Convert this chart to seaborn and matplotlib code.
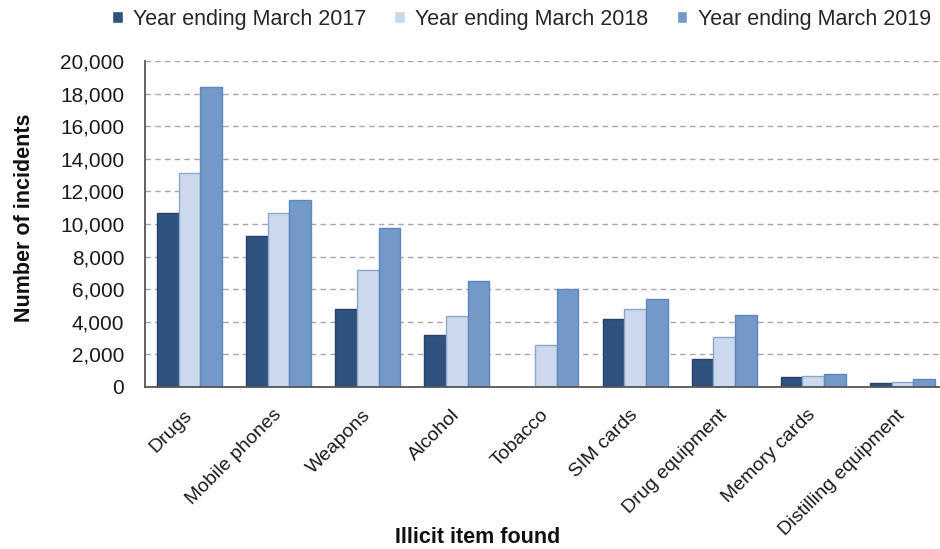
import numpy as np
import pandas as pd
import matplotlib
matplotlib.use("Agg")
import matplotlib.pyplot as plt
import matplotlib.transforms as mtransforms
import seaborn as sns
from matplotlib.ticker import FuncFormatter

categories = ["Drugs", "Mobile phones", "Weapons", "Alcohol", "Tobacco",
              "SIM cards", "Drug equipment", "Memory cards", "Distilling equipment"]
series = ["Year ending March 2017", "Year ending March 2018", "Year ending March 2019"]
y2017 = [10700, 9250, 4800, 3200, np.nan, 4200, 1720, 600, 230]
y2018 = [13100, 10650, 7180, 4380, 2580, 4760, 3090, 700, 330]
y2019 = [18420, 11450, 9750, 6480, 5990, 5400, 4400, 820, 510]

fills = ["#2F527F", "#CCD9EC", "#7399C9"]
edges = ["#24426A", "#8AA5CE", "#5F86BC"]

df = pd.DataFrame({
    "item": categories * 3,
    "year": [series[0]] * 9 + [series[1]] * 9 + [series[2]] * 9,
    "count": y2017 + y2018 + y2019,
})

sns.set_theme(style="white")
plt.rcParams["font.family"] = ["Liberation Sans", "DejaVu Sans"]

W, H = 940, 549
fig = plt.figure(figsize=(W / 100, H / 100), dpi=100)
ax = fig.add_axes([145 / W, 1 - 387 / H, (W - 145) / W, (387 - 61) / H])

sns.barplot(data=df, x="item", y="count", hue="year", order=categories,
            hue_order=series, palette=fills, width=0.73, ax=ax,
            saturation=1, legend=True)

for cont, ec in zip(ax.containers, edges):
    for bar in cont:
        bar.set_edgecolor(ec)
        bar.set_linewidth(1.0)

ax.set_ylim(0, 20000)
ax.set_yticks(range(0, 20001, 2000))
ax.yaxis.set_major_formatter(FuncFormatter(lambda v, p: f"{int(v):,}"))
ax.set_xlim(-0.5, -0.5 + 795 / 89.1)

ax.grid(axis="y", color="#A6A6A6", linestyle=(0, (4, 3)), linewidth=1.0)
ax.set_axisbelow(True)
for s in ["top", "right"]:
    ax.spines[s].set_visible(False)
for s in ["left", "bottom"]:
    ax.spines[s].set_color("#555555")
    ax.spines[s].set_linewidth(1.3)

ax.tick_params(axis="y", labelsize=15, colors="#1a1a1a", length=0, pad=15)
ax.tick_params(axis="x", labelsize=14, colors="#1a1a1a", length=0, pad=14)
shift = mtransforms.ScaledTranslation(-0.06, 0, fig.dpi_scale_trans)
for lab in ax.get_xticklabels():
    lab.set_rotation(45)
    lab.set_ha("right")
    lab.set_rotation_mode("anchor")
    lab.set_transform(lab.get_transform() + shift)

ax.set_ylabel("Number of incidents", fontsize=15.5, fontweight="bold", color="#111111")
ax.yaxis.set_label_coords((35 - 145) / 795, 0.52)
ax.set_xlabel("Illicit item found", fontsize=15.5, fontweight="bold", color="#111111")
ax.xaxis.set_label_coords((478 - 145) / 795, -(527 - 387) / 326)

handles, labels = ax.get_legend_handles_labels()
ax.get_legend().remove()
fig.legend(handles, labels, loc="center left", bbox_to_anchor=(112 / W, 1 - 19 / H),
           bbox_transform=fig.transFigure, ncol=3, frameon=False, fontsize=15.5,
           handlelength=0.5, handleheight=0.5, handletextpad=0.48,
           columnspacing=1.3, borderpad=0, borderaxespad=0)

fig.savefig("out.png", dpi=100)
